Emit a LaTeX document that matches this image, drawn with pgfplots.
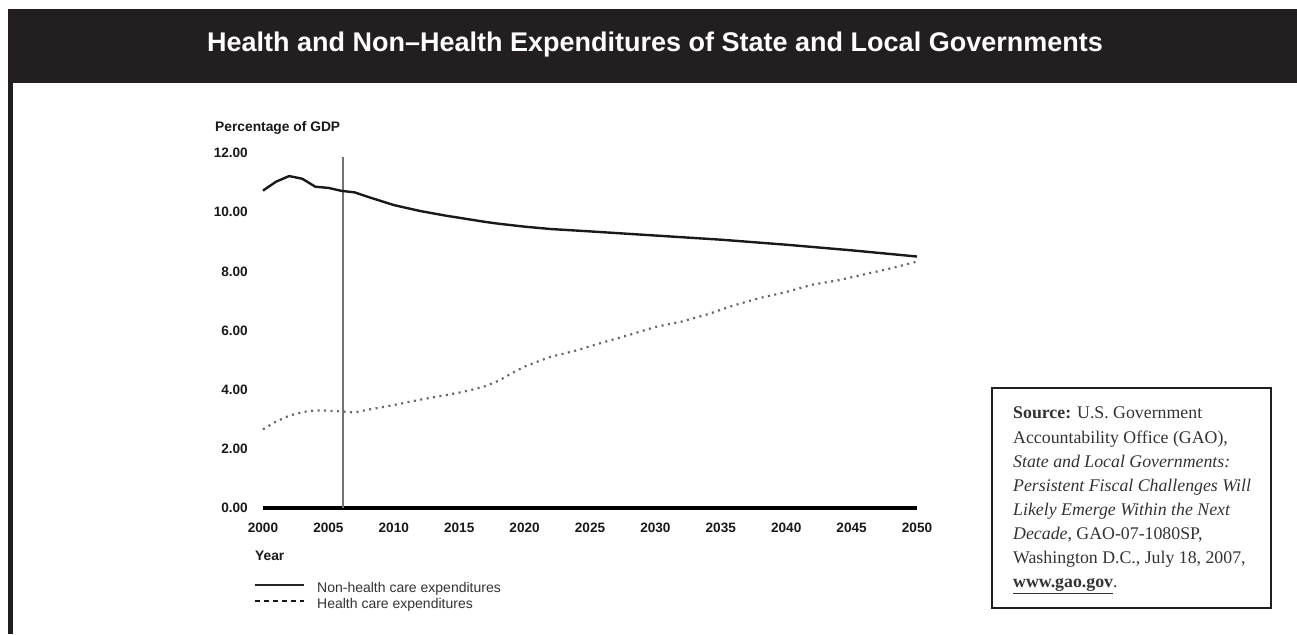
\documentclass[border=0pt]{standalone}
\usepackage{pgfplots}
\pgfplotsset{compat=1.18}
\usepackage{fontspec}
\setmainfont{Liberation Sans}
\newfontfamily\srcfont{Liberation Serif}
\definecolor{barblack}{HTML}{231F20}
\definecolor{txtgray}{HTML}{333333}

\pgfplotstableread{
year val
2000 10.73
2001 11.03
2002 11.22
2003 11.13
2004 10.86
2005 10.82
2006 10.72
2007 10.67
2008 10.52
2009 10.38
2010 10.24
2011 10.14
2012 10.04
2013 9.96
2014 9.88
2015 9.81
2016 9.74
2017 9.67
2018 9.61
2019 9.56
2020 9.51
2021 9.47
2022 9.43
2025 9.35
2030 9.21
2035 9.07
2040 8.90
2045 8.71
2050 8.50
}\nonhealth

\pgfplotstableread{
year val
2000 2.66
2001 2.92
2002 3.12
2003 3.24
2004 3.30
2005 3.29
2006 3.26
2007 3.23
2008 3.32
2009 3.40
2010 3.48
2011 3.57
2012 3.66
2013 3.74
2014 3.82
2015 3.90
2016 4.00
2017 4.12
2018 4.30
2019 4.55
2020 4.78
2021 4.95
2022 5.11
2024 5.33
2026 5.60
2028 5.85
2030 6.12
2032 6.30
2034 6.55
2036 6.85
2038 7.10
2040 7.30
2042 7.55
2044 7.70
2046 7.90
2048 8.10
2050 8.33
}\health

\begin{document}
\begin{tikzpicture}[x=1pt,y=1pt]
\useasboundingbox (0,0) rectangle (1297,634);
\fill[white] (0,0) rectangle (1297,634);
% title bar and left frame
\fill[barblack] (8,551) rectangle (1297,625);
\fill[barblack] (8,0) rectangle (13,551);
\node[anchor=base, text=white, font=\fontsize{27}{31}\selectfont\bfseries, inner sep=0pt] at (655,582) {Health and Non–Health Expenditures of State and Local Governments};

\begin{axis}[
  at={(263pt,126pt)}, anchor=south west,
  width=654pt, height=355pt, scale only axis,
  xmin=2000, xmax=2050, ymin=0, ymax=12,
  axis line style={draw=none},
  major tick length=0pt,
  xtick={2000,2005,...,2050}, ytick={0,2,...,12},
  clip=false,
  /pgf/number format/assume math mode=true,
  ticklabel style={font=\fontsize{13.6}{15}\selectfont\bfseries, text=black!90},
  xticklabel style={/pgf/number format/1000 sep={}, anchor=north, inner sep=0pt, yshift=-15pt},
  yticklabel style={/pgf/number format/.cd, fixed, fixed zerofill, precision=2, /tikz/.cd, anchor=east, inner sep=0pt, xshift=-15pt},
  legend style={at={(-0.0138,-0.2085)}, anchor=north west, draw=none, fill=none, inner sep=0pt,
    font=\fontsize{14}{16}\selectfont, text=txtgray, row sep=3pt, column sep=12pt,
    nodes={inner sep=0pt, text height=10pt, text depth=3pt}},
  legend cell align=left,
  legend image code/.code={\draw[#1] (0pt,3.5pt) -- (49pt,3.5pt);},
]
\addplot[black, line width=4pt, forget plot] coordinates {(2000,0) (2050,0)};
\addplot[black!55, line width=1.6pt, forget plot] coordinates {(2006.1,0) (2006.1,11.87)};
\addplot[black!90, line width=2.4pt, forget plot] table[x=year, y=val] {\nonhealth};
\addplot[black!60, line width=2.2pt, dash pattern=on 2pt off 4.5pt, forget plot] table[x=year, y=val] {\health};
\addlegendimage{black!85, line width=2pt}
\addlegendentry{Non-health care expenditures}
\addlegendimage{black!90, line width=2pt, dash pattern=on 5pt off 4pt}
\addlegendentry{Health care expenditures}
\end{axis}

\node[anchor=base west, inner sep=0pt, font=\fontsize{13.8}{15}\selectfont\bfseries, text=black!90] at (215,502) {Percentage of GDP};
\node[anchor=base west, inner sep=0pt, font=\fontsize{13.8}{15}\selectfont\bfseries, text=black!90] at (255,74) {Year};

% source box
\draw[barblack, line width=2.6pt] (992,246) rectangle (1271,26);
\begin{scope}[every node/.style={anchor=base west, inner sep=0pt, text=txtgray, font=\srcfont\fontsize{17.8}{24}\selectfont}]
\node at (1013,215) {\textbf{Source:} U.S. Government};
\node at (1013,190.9) {Accountability Office (GAO),};
\node at (1013,166.8) {\textit{State and Local Governments:}};
\node at (1013,142.7) {\textit{Persistent Fiscal Challenges Will}};
\node at (1013,118.6) {\textit{Likely Emerge Within the Next}};
\node at (1013,94.5) {\textit{Decade}, GAO-07-1080SP,};
\node at (1013,70.4) {Washington D.C., July 18, 2007,};
\node at (1013,46.3) {\textbf{\underline{www.gao.gov}}.};
\end{scope}
\end{tikzpicture}
\end{document}
